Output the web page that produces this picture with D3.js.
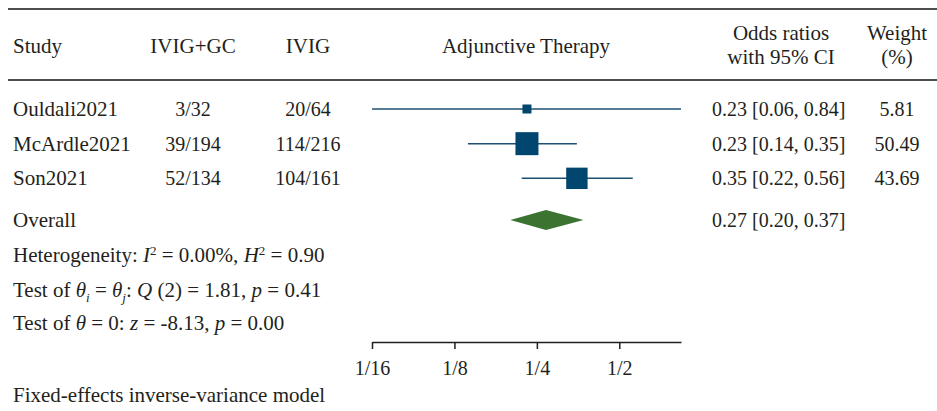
<!DOCTYPE html>
<html><head><meta charset="utf-8">
<script src="https://cdn.jsdelivr.net/npm/d3@7"></script>
<style>
body{margin:0;background:#fff;}
svg text{font-family:"Liberation Serif","Times New Roman",serif;font-size:21px;fill:#231f20;}
svg text.num{font-size:20px;}
</style></head>
<body><svg id="c" width="937" height="411"></svg>
<script>
const studies = ["Ouldali2021","McArdle2021","Son2021"];
const treated = ["3/32","39/194","52/134"];
const control = ["20/64","114/216","104/161"];
const orEst = [0.23,0.23,0.35];
const orLo = [0.06,0.14,0.22];
const orHi = [0.84,0.35,0.56];
const weights = [5.81,50.49,43.69];
const overall = {est:0.27, lo:0.20, hi:0.37};
const tickVals = [1/16,1/8,1/4,1/2];
const tickLabels = ["1/16","1/8","1/4","1/2"];

const svg = d3.select("#c");
const fmt = d3.format(".2f");
const x = d3.scaleLog().base(2).domain([1/16, 0.84]).range([372, 681]);
const rowY = d3.scalePoint().domain([0,1,2,3]).range([109, 213]);
const overallY = 220;
const sz = d3.scaleSqrt().domain([0, d3.max(weights)]).range([0, 23]);

// rules
svg.append("line").attr("x1",8).attr("x2",937).attr("y1",9).attr("y2",9).attr("stroke","#4d4d4f").attr("stroke-width",2);
svg.append("line").attr("x1",8).attr("x2",937).attr("y1",80).attr("y2",80).attr("stroke","#4d4d4f").attr("stroke-width",2);

// header
const hdr = (t,xx,yy,anchor)=>svg.append("text").attr("x",xx).attr("y",yy).attr("text-anchor",anchor||"middle").text(t);
hdr("Study",13,53,"start");
hdr("IVIG+GC",193,53);
hdr("IVIG",308,53);
hdr("Adjunctive Therapy",526,53);
hdr("Odds ratios",781,40);
hdr("with 95% CI",781,64);
hdr("Weight",897,40);
hdr("(%)",897,64);

// rows
studies.forEach((s,i)=>{
  const y = rowY(i);
  svg.append("text").attr("x",13).attr("y",y+7).text(s);
  svg.append("text").attr("class","num").attr("x",193).attr("y",y+7).attr("text-anchor","middle").text(treated[i]);
  svg.append("text").attr("class","num").attr("x",308).attr("y",y+7).attr("text-anchor","middle").text(control[i]);
  const lo = Math.max(orLo[i], x.domain()[0]), hi = Math.min(orHi[i], x.domain()[1]);
  svg.append("line").attr("x1",x(lo)).attr("x2",x(hi)).attr("y1",y).attr("y2",y)
    .attr("stroke","#1d4f73").attr("stroke-width",1.5);
  const s2 = Math.max(9, sz(weights[i]));
  svg.append("rect").attr("x",x(orEst[i])-s2/2).attr("y",y-s2/2).attr("width",s2).attr("height",s2).attr("fill","#00466e");
  svg.append("text").attr("class","num").attr("x",712).attr("y",y+7).text(`${fmt(orEst[i])} [${fmt(orLo[i])}, ${fmt(orHi[i])}]`);
  svg.append("text").attr("class","num").attr("x",897).attr("y",y+7).attr("text-anchor","middle").text(fmt(weights[i]));
});

// overall
svg.append("text").attr("x",13).attr("y",overallY+7).text("Overall");
svg.append("path").attr("d",`M${x(overall.lo)},${overallY}L${x(overall.est)},${overallY-10}L${x(overall.hi)},${overallY}L${x(overall.est)},${overallY+10}Z`).attr("fill","#3a7430");
svg.append("text").attr("class","num").attr("x",712).attr("y",overallY+7).text(`${fmt(overall.est)} [${fmt(overall.lo)}, ${fmt(overall.hi)}]`);

// stats
function rich(yy, parts){
  const t = svg.append("text").attr("x",13).attr("y",yy);
  parts.forEach(p=>{
    const ts = t.append("tspan").text(p.t);
    if(p.i) ts.attr("font-style","italic");
    if(p.sup) ts.attr("dy",-7).attr("font-size","13px");
    if(p.sub) ts.attr("dy",5).attr("font-size","13px");
    if(p.back) ts.attr("dy",p.back);
  });
}
rich(262,[{t:"Heterogeneity: "},{t:"I",i:1},{t:"2",sup:1},{t:" = 0.00%, ",back:7},{t:"H",i:1},{t:"2",sup:1},{t:" = 0.90",back:7}]);
rich(297,[{t:"Test of "},{t:"θ",i:1},{t:"i",i:1,sub:1},{t:" = ",back:-5},{t:"θ",i:1},{t:"j",i:1,sub:1},{t:": ",back:-5},{t:"Q",i:1},{t:" (2) = 1.81, "},{t:"p",i:1},{t:" = 0.41"}]);
rich(330,[{t:"Test of "},{t:"θ",i:1},{t:" = 0: "},{t:"z",i:1},{t:" = -8.13, "},{t:"p",i:1},{t:" = 0.00"}]);
svg.append("text").attr("x",13).attr("y",402).text("Fixed-effects inverse-variance model");

// axis
const ax = svg.append("g").attr("transform","translate(0,342)")
  .call(d3.axisBottom(x).tickValues(tickVals).tickFormat((d,i)=>tickLabels[i]).tickSize(7).tickSizeOuter(0));
ax.select(".domain").attr("stroke","#231f20").attr("stroke-width",1.5);
ax.selectAll(".tick line").attr("stroke","#231f20").attr("stroke-width",1.5);
ax.selectAll(".tick text").attr("class","num").attr("dy",null).attr("y",33);
</script></body></html>
